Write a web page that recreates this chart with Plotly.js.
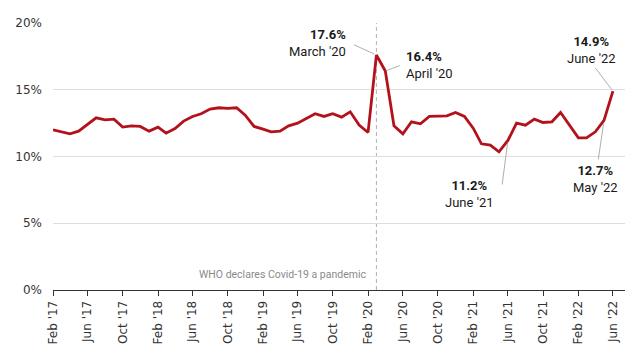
<!DOCTYPE html>
<html>
<head>
<meta charset="utf-8">
<script src="https://cdn.plot.ly/plotly-3.0.1.min.js"></script>
<style>html,body{margin:0;padding:0;background:#fff;}#chart{width:640px;height:353px;}</style>
</head>
<body>
<div id="chart"></div>
<script>
// Monthly series: Feb 2017 .. Jun 2022
const startYear = 2017, startMonth = 2, monthCount = 65;
const rates = [
  12.0, 11.85, 11.7, 11.9, 12.4, 12.9, 12.75, 12.8, 12.2, 12.3, 12.25,
  11.9, 12.2, 11.75, 12.1, 12.65, 13.0, 13.2, 13.55, 13.65, 13.6, 13.65, 13.1,
  12.25, 12.05, 11.85, 11.9, 12.3, 12.5, 12.85, 13.2, 13.0, 13.2, 12.95, 13.35,
  12.35, 11.8, 17.6, 16.4, 12.3, 11.7, 12.6, 12.45, 13.0, 13.05, 13.05, 13.3,
  13.0, 12.1, 10.95, 10.85, 10.35, 11.2, 12.5, 12.35, 12.8, 12.55, 12.6, 13.3,
  12.35, 11.4, 11.4, 11.85, 12.7, 14.9
];
const tickVals = ['2017-02-01','2017-06-01','2017-10-01','2018-02-01','2018-06-01','2018-10-01',
  '2019-02-01','2019-06-01','2019-10-01','2020-02-01','2020-06-01','2020-10-01',
  '2021-02-01','2021-06-01','2021-10-01','2022-02-01','2022-06-01'];
const tickText = ["Feb '17","Jun '17","Oct '17","Feb '18","Jun '18","Oct '18",
  "Feb '19","Jun '19","Oct '19","Feb '20","Jun '20","Oct '20",
  "Feb '21","Jun '21","Oct '21","Feb '22","Jun '22"];
const yTickVals = [0, 5, 10, 15, 20];
const yTickText = ['0%', '5%', '10%', '15%', '20%'];
const eventDate = '2020-03-01';
const eventLabel = 'WHO declares Covid-19 a pandemic';
const callouts = [
  {date: '2020-03-01', value: '17.6%', label: "March '20"},
  {date: '2020-04-01', value: '16.4%', label: "April '20"},
  {date: '2021-06-01', value: '11.2%', label: "June '21"},
  {date: '2022-06-01', value: '14.9%', label: "June '22"},
  {date: '2022-05-01', value: '12.7%', label: "May '22"}
];

const dates = [];
for (let i = 0; i < monthCount; i++) {
  const m0 = startMonth - 1 + i;
  const y = startYear + Math.floor(m0 / 12);
  const m = (m0 % 12) + 1;
  dates.push(y + '-' + String(m).padStart(2, '0') + '-01');
}
function valueAt(d) { return rates[dates.indexOf(d)]; }

// layout-only styling for each callout (text offset + leader line)
const calloutStyle = [
  {xs: -28, ys: 12, xa: 'right', align: 'right', ax: -24, ay: -11, st: 2},
  {xs: 19, ys: 6, xa: 'left', align: 'left', ax: 16, ay: -6, st: 2},
  {xs: -38, ys: -54, xa: 'center', align: 'center', ax: -6, ay: 46, st: 2},
  {xs: -21, ys: 41, xa: 'center', align: 'center', ax: -19, ay: -25, st: 2},
  {xs: -9, ys: -59, xa: 'center', align: 'center', ax: -6, ay: 41, st: 3}
];

const annFont = 'Roboto, "Liberation Sans", Arial, sans-serif';
const annotations = [];
callouts.forEach((c, k) => {
  const s = calloutStyle[k];
  const yv = valueAt(c.date);
  annotations.push({
    x: c.date, y: yv, xref: 'x', yref: 'y', showarrow: false,
    text: '<b>' + c.value + '</b><br>' + c.label,
    xanchor: s.xa, yanchor: 'middle', align: s.align,
    xshift: s.xs, yshift: s.ys,
    font: {family: annFont, size: 13, color: '#1a1a1a'}
  });
  annotations.push({
    x: c.date, y: yv, xref: 'x', yref: 'y', showarrow: true,
    text: ' ', font: {size: 1},
    ax: s.ax, ay: s.ay, arrowhead: 0, arrowwidth: 0.8, arrowcolor: '#999',
    standoff: s.st
  });
});
annotations.push({
  x: eventDate, y: 0, xref: 'x', yref: 'y', showarrow: false,
  text: eventLabel, xanchor: 'right', yanchor: 'middle', xshift: -7, yshift: 16,
  font: {family: annFont, size: 10.5, color: '#8a8a8a'}
});

const trace = {
  x: dates, y: rates, type: 'scatter', mode: 'lines',
  line: {color: '#b3121b', width: 2.8, shape: 'linear'},
  hoverinfo: 'skip'
};

const layout = {
  width: 640, height: 353,
  margin: {l: 53, r: 15, t: 23, b: 63},
  paper_bgcolor: '#fff', plot_bgcolor: '#fff',
  showlegend: false,
  xaxis: {
    type: 'date', range: ['2017-02-01', '2022-07-13'],
    tickmode: 'array', tickvals: tickVals, ticktext: tickText,
    tickangle: -90, ticks: 'outside', ticklen: 5, tickcolor: '#333', tickwidth: 1,
    showline: true, linecolor: '#333', linewidth: 1,
    showgrid: false, zeroline: false,
    tickfont: {family: '"DejaVu Sans", Verdana, sans-serif', size: 12, color: '#333'}
  },
  yaxis: {
    range: [0, 20], tickmode: 'array', tickvals: yTickVals, ticktext: yTickText,
    showgrid: true, gridcolor: '#dedede', gridwidth: 1, zeroline: false,
    showline: false, ticks: '', ticklabelstandoff: 10,
    tickfont: {family: '"DejaVu Sans", Verdana, sans-serif', size: 12, color: '#333'}
  },
  shapes: [{
    type: 'line', xref: 'x', yref: 'paper', x0: eventDate, x1: eventDate, y0: 0, y1: 1,
    line: {color: '#b0b0b0', width: 1, dash: '4px,3px'}, layer: 'below'
  }],
  annotations: annotations
};

Plotly.newPlot('chart', [trace], layout, {displayModeBar: false, staticPlot: true});
</script>
</body>
</html>
